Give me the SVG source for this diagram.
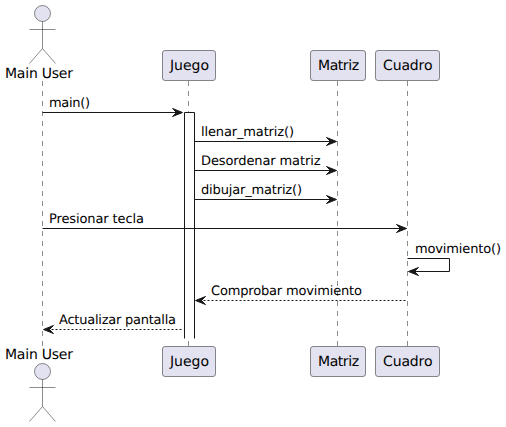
<svg xmlns="http://www.w3.org/2000/svg" width="506" height="427" viewBox="0 0 506 427">
<style>
text{font-family:"DejaVu Sans",sans-serif;fill:#000;text-rendering:geometricPrecision}
.msg{font-size:13px}
.name{font-size:14px}
.box{fill:#E2E2F0;stroke:#181818;stroke-width:.5}
.actor{fill:none;stroke:#181818;stroke-width:.5}
.head{fill:#E2E2F0;stroke:#181818;stroke-width:.5}
.life{stroke:#181818;stroke-width:.5;stroke-dasharray:5 5;fill:none}
.solid{stroke:#181818;stroke-width:1;fill:none}
.dash{stroke:#181818;stroke-width:1;fill:none;stroke-dasharray:2 2}
.tip{fill:#181818;stroke:#181818;stroke-width:1}
.act{fill:#fff;stroke:none}
.edge{fill:none;stroke:#181818;stroke-width:1}
</style>
<defs>
<g id="stick">
<circle class="head" cx="0" cy="0" r="8"/>
<path class="actor" d="M0 8V35M-13 16H13M0 35L-13 50M0 35L13 50"/>
</g>
</defs>
<g id="lifelines">
<path class="life" d="M42.5 81V346"/>
<path class="life" d="M188.5 81V346"/>
<path class="life" d="M337.5 81V346"/>
<path class="life" d="M407.5 81V346"/>
</g>
<g id="activation"><rect class="act" x="184.5" y="112.5" width="10" height="226"/><path class="edge" d="M184.5 338.5V112.5H194.5V338.5"/></g>
<g id="connectors">
<path class="solid" d="M42.5 112.5H180"/>
<polygon class="tip" points="172.5,108.5 182.5,112.5 172.5,116.5 176.5,112.5"/>
<path class="solid" d="M194.5 141.5H334"/>
<polygon class="tip" points="326.5,137.5 336.5,141.5 326.5,145.5 330.5,141.5"/>
<path class="solid" d="M194.5 170.5H334"/>
<polygon class="tip" points="326.5,166.5 336.5,170.5 326.5,174.5 330.5,170.5"/>
<path class="solid" d="M194.5 199.5H334"/>
<polygon class="tip" points="326.5,195.5 336.5,199.5 326.5,203.5 330.5,199.5"/>
<path class="solid" d="M42.5 228.5H404"/>
<polygon class="tip" points="396.5,224.5 406.5,228.5 396.5,232.5 400.5,228.5"/>
<path class="solid" d="M407.5 258.5H449.5V271.5H412"/>
<polygon class="tip" points="418.5,267.5 408.5,271.5 418.5,275.5 414.5,271.5"/>
<path class="dash" d="M199.5 300.5H406.5"/>
<polygon class="tip" points="205.5,296.5 195.5,300.5 205.5,304.5 201.5,300.5"/>
<path class="dash" d="M47.5 329.5H182.5"/>
<polygon class="tip" points="53.5,325.5 43.5,329.5 53.5,333.5 49.5,329.5"/>
</g>
<g id="labels">
<text class="msg" x="49" y="107" textLength="41">main()</text>
<text class="msg" x="201" y="136" textLength="93">llenar_matriz()</text>
<text class="msg" x="201" y="165" textLength="119.5">Desordenar matriz</text>
<text class="msg" x="201" y="194" textLength="101">dibujar_matriz()</text>
<text class="msg" x="49" y="223" textLength="95">Presionar tecla</text>
<text class="msg" x="415" y="253" textLength="86">movimiento()</text>
<text class="msg" x="211" y="295" textLength="151">Comprobar movimiento</text>
<text class="msg" x="59" y="324" textLength="117">Actualizar pantalla</text>
</g>
<g id="actor-top"><use href="#stick" x="42.5" y="13.5"/><text class="name" x="5" y="78" textLength="68">Main User</text></g>
<g id="actor-bottom"><use href="#stick" x="42.5" y="371.5"/><text class="name" x="5" y="359" textLength="68">Main User</text></g>
<g id="juego-top"><rect class="box" x="162.5" y="50.5" width="53" height="30" rx="2.5"/><text class="name" x="170" y="70" textLength="39">Juego</text></g>
<g id="matriz-top"><rect class="box" x="310.5" y="50.5" width="55" height="30" rx="2.5"/><text class="name" x="318" y="70" textLength="41">Matriz</text></g>
<g id="cuadro-top"><rect class="box" x="375.5" y="50.5" width="64" height="30" rx="2.5"/><text class="name" x="383" y="70" textLength="49.5">Cuadro</text></g>
<g id="juego-bottom"><rect class="box" x="162.5" y="346.5" width="53" height="30" rx="2.5"/><text class="name" x="170" y="366" textLength="39">Juego</text></g>
<g id="matriz-bottom"><rect class="box" x="310.5" y="346.5" width="55" height="30" rx="2.5"/><text class="name" x="318" y="366" textLength="41">Matriz</text></g>
<g id="cuadro-bottom"><rect class="box" x="375.5" y="346.5" width="64" height="30" rx="2.5"/><text class="name" x="383" y="366" textLength="49.5">Cuadro</text></g>
</svg>
